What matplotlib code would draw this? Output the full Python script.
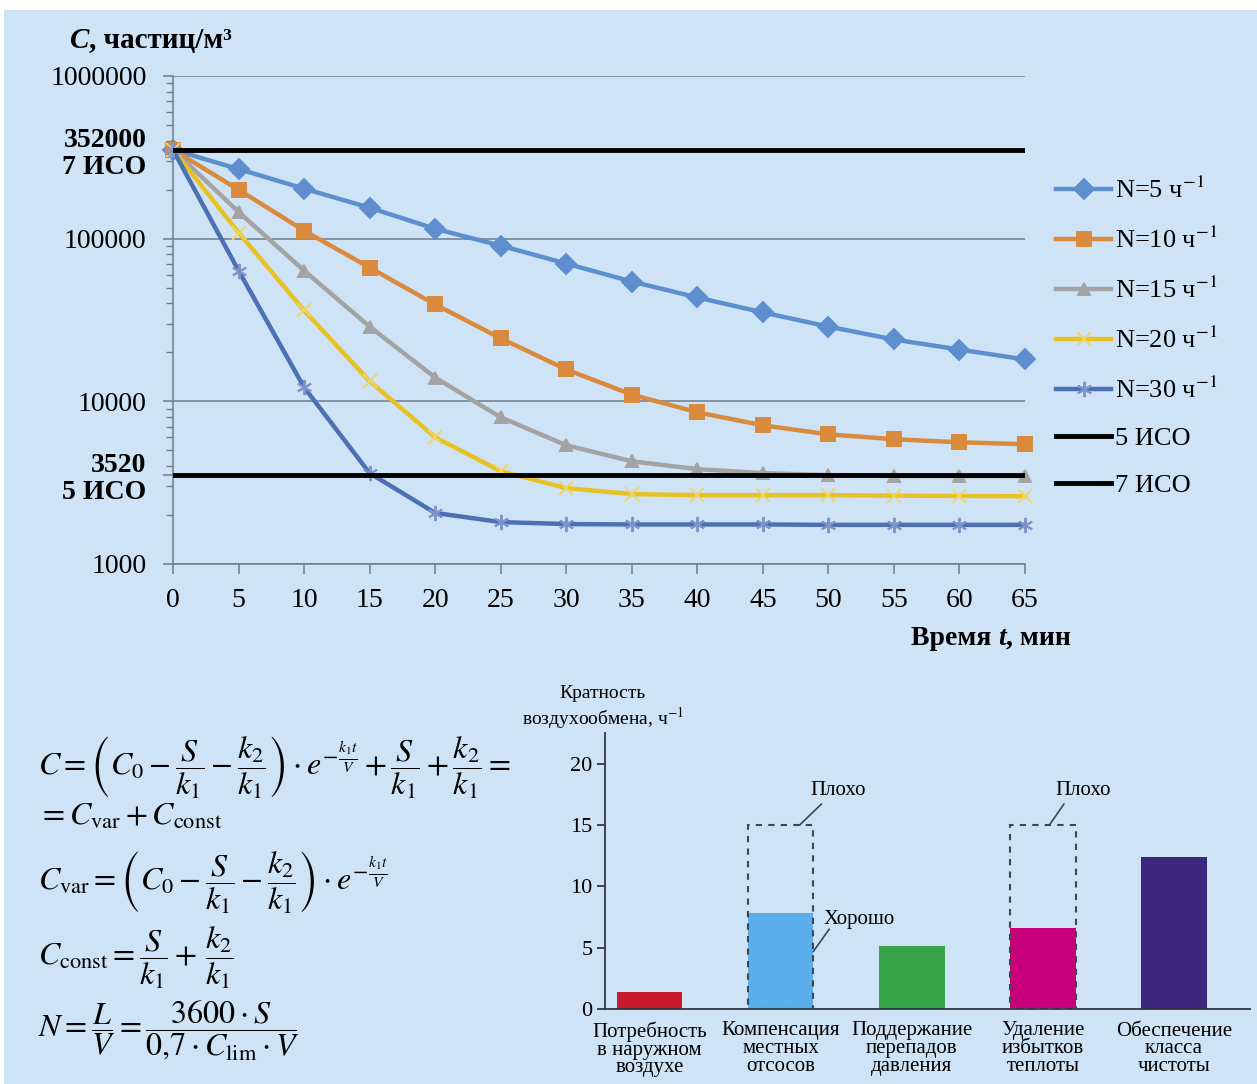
import numpy as np
import matplotlib
matplotlib.use('Agg')
import matplotlib.pyplot as plt
from matplotlib.patches import Rectangle
from matplotlib.ticker import FixedLocator, LogLocator, NullFormatter

plt.rcParams['font.family'] = ['Liberation Serif', 'DejaVu Serif']
plt.rcParams['mathtext.fontset'] = 'stix'

W, H = 1257, 1084
BG = '#cfe3f6'

# --- data: concentration vs time ---
t_min = [0, 5, 10, 15, 20, 25, 30, 35, 40, 45, 50, 55, 60, 65]
c_n5 = [352000, 268000, 203000, 155000, 115000, 90600, 70300, 54500, 43500, 35200, 28800, 24000, 20800, 18100]
c_n10 = [352000, 200000, 112000, 66400, 39400, 24400, 15700, 11000, 8560, 7120, 6270, 5850, 5600, 5450]
c_n15 = [352000, 146000, 63600, 28800, 14000, 7980, 5370, 4280, 3830, 3620, 3520, 3470, 3470, 3470]
c_n20 = [352000, 109000, 36200, 13300, 6010, 3720, 2930, 2690, 2650, 2650, 2650, 2630, 2620, 2610]
c_n30 = [352000, 63600, 12200, 3620, 2060, 1810, 1760, 1750, 1750, 1750, 1740, 1740, 1740, 1740]
iso_levels = [352000, 3520]
iso_names = ['5 ИСО', '7 ИСО']
y_ticks = [1000, 3520, 10000, 100000, 352000, 1000000]
y_ticklabels = ['1000', '3520\n5 ИСО', '10000', '100000', '352000\n7 ИСО', '1000000']

# --- data: air exchange rate by purpose ---
categories = ['Потребность\nв наружном\nвоздухе', 'Компенсация\nместных\nотсосов',
              'Поддержание\nперепадов\nдавления', 'Удаление\nизбытков\nтеплоты',
              'Обеспечение\nкласса\nчистоты']
rates = [1.4, 7.8, 5.1, 6.6, 12.4]
bad_rates = [None, 15, None, 15, None]
bar_colors = ['#c8192e', '#5aaeea', '#38a648', '#c8007a', '#3b287c']


def fx(x):
    return x / W


def fy(y):
    return 1 - y / H


fig = plt.figure(figsize=(W / 100, H / 100), dpi=100, facecolor='white')
fig.patches.append(Rectangle((fx(4), 0), 1, fy(10), transform=fig.transFigure,
                             facecolor=BG, edgecolor='none', zorder=-10))

# ---------------- top chart ----------------
ax = fig.add_axes([fx(173), fy(564), fx(1025 - 173), (564 - 76) / H])
ax.set_facecolor('none')
ax.set_yscale('log')
ax.set_xlim(0, 65)
ax.set_ylim(1000, 1000000)

gcol = '#6f7d8a'
ax.yaxis.set_major_locator(FixedLocator(y_ticks))
ax.yaxis.set_minor_locator(LogLocator(base=10, subs=np.arange(2, 10)))
ax.yaxis.set_minor_formatter(NullFormatter())
ax.set_yticklabels(y_ticklabels)
for lab, txt in zip(ax.get_yticklabels(), y_ticklabels):
    if '\n' in txt:
        lab.set_fontweight('bold')
        lab.set_linespacing(1.12)
for v in [1000, 10000, 100000, 1000000]:
    ax.axhline(v, color=gcol, lw=1.1, zorder=1)
ax.set_xticks(t_min)
ax.tick_params(axis='both', which='major', labelsize=20, color=gcol, direction='out', length=7, width=1.1)
ax.tick_params(axis='y', which='major', pad=12)
ax.tick_params(axis='x', which='major', pad=10)
ax.tick_params(axis='y', which='minor', color=gcol, direction='out', length=5, width=1.0)
for s in ['top', 'right']:
    ax.spines[s].set_visible(False)
for s in ['left', 'bottom']:
    ax.spines[s].set_color(gcol)
    ax.spines[s].set_linewidth(1.1)

series = [
    (c_n5, 'N=5 ч$^{-1}$', '#5d8fcf', 'D', 10, '#5d8fcf'),
    (c_n10, 'N=10 ч$^{-1}$', '#d98a3d', 's', 10, '#d98a3d'),
    (c_n15, 'N=15 ч$^{-1}$', '#a3a3a3', '^', 9, '#a3a3a3'),
    (c_n20, 'N=20 ч$^{-1}$', '#e8c224', 'x', 10, '#efd56a'),
    (c_n30, 'N=30 ч$^{-1}$', '#4d6fb3', (6, 2, 0), 11, '#7f93c8'),
]
handles = []
for vals, lab, col, mk, ms, mcol in series:
    h, = ax.plot(t_min, vals, color=col, lw=3.2, marker=mk, ms=ms, mfc=mcol, mec=mcol,
                 mew=1.4, label=lab, zorder=3, clip_on=False)
    handles.append(h)
for lvl, name in zip(iso_levels, iso_names):
    h = ax.axhline(lvl, color='black', lw=3.5, label=name, zorder=4)
    handles.append(h)

fig.legend(handles=handles, loc='upper left', bbox_to_anchor=(fx(1056), fy(177)),
           frameon=False, fontsize=19, handlelength=2.1, handletextpad=0.15,
           labelspacing=0.9, borderpad=0, borderaxespad=0)

t1 = fig.text(fx(70), fy(48), 'C', fontsize=21, fontweight='bold', fontstyle='italic', va='baseline')
ax.annotate(', частиц/м³', xy=(1, 0), xycoords=t1, fontsize=21, fontweight='bold', va='bottom')

x1 = fig.text(fx(911), fy(645), 'Время ', fontsize=20, fontweight='bold', va='baseline')
x2 = ax.annotate('t', xy=(1, 0), xycoords=x1, fontsize=20, fontweight='bold', fontstyle='italic', va='bottom')
ax.annotate(', мин', xy=(1, 0), xycoords=x2, fontsize=20, fontweight='bold', va='bottom')

# ---------------- formulas ----------------
fs = 23
fig.text(fx(38), fy(775), r"$C=\left(C_0-\dfrac{S}{k_1}-\dfrac{k_2}{k_1}\right)\cdot e^{-\frac{k_1t}{V}}+\dfrac{S}{k_1}+\dfrac{k_2}{k_1}=$",
         fontsize=fs, va='baseline')
fig.text(fx(38), fy(825), r"$=C_{\mathrm{var}}+C_{\mathrm{const}}$", fontsize=fs, va='baseline')
fig.text(fx(38), fy(890), r"$C_{\mathrm{var}}=\left(C_0-\dfrac{S}{k_1}-\dfrac{k_2}{k_1}\right)\cdot e^{-\frac{k_1t}{V}}$",
         fontsize=fs, va='baseline')
fig.text(fx(38), fy(965), r"$C_{\mathrm{const}}=\dfrac{S}{k_1}+\,\dfrac{k_2}{k_1}$", fontsize=fs, va='baseline')
fig.text(fx(38), fy(1037), r"$N=\dfrac{L}{V}=\dfrac{3600\cdot S}{0{,}7\cdot C_{\mathrm{lim}}\cdot V}$",
         fontsize=fs, va='baseline')

# ---------------- bar chart ----------------
bx = fig.add_axes([fx(605), fy(1009), fx(1250 - 605), (1009 - 733) / H])
bx.set_facecolor('none')
pos = np.arange(len(categories))
bx.bar(pos, rates, width=0.5, color=bar_colors, zorder=2)
for p, b in zip(pos, bad_rates):
    if b is not None:
        bx.add_patch(Rectangle((p - 0.25, 0), 0.5, b, fill=False, edgecolor='#3c4654',
                               lw=1.5, ls=(0, (3, 3)), zorder=3))
bx.set_xlim(-0.34, 4.58)
bx.set_ylim(0, 22.5)
bx.set_yticks([0, 5, 10, 15, 20])
bx.set_xticks(pos)
bx.set_xticklabels(categories, fontsize=15, linespacing=0.9)
bx.tick_params(axis='x', length=0, pad=9)
bx.tick_params(axis='y', labelsize=16, length=6, width=1.3, color='#2f3640', pad=3)
for s in ['top', 'right']:
    bx.spines[s].set_visible(False)
for s in ['left', 'bottom']:
    bx.spines[s].set_color('#2f3640')
    bx.spines[s].set_linewidth(1.3)

lcol = '#3c4654'
bx.plot([1.145, 1.31], [15, 16.7], color=lcol, lw=1.2)
bx.text(1.44, 17.8, 'Плохо', fontsize=15, ha='center', va='center')
bx.plot([3.05, 3.16], [15, 16.7], color=lcol, lw=1.2)
bx.text(3.31, 17.8, 'Плохо', fontsize=15, ha='center', va='center')
bx.plot([1.25, 1.37], [4.7, 6.5], color=lcol, lw=1.2)
bx.text(1.6, 7.3, 'Хорошо', fontsize=15, ha='center', va='center')

fig.text(fx(603), fy(693), 'Кратность', fontsize=14, ha='center', va='center')
fig.text(fx(603), fy(718), 'воздухообмена, ч$^{-1}$', fontsize=14, ha='center', va='center')

fig.savefig('out.png', dpi=100, facecolor='white')
